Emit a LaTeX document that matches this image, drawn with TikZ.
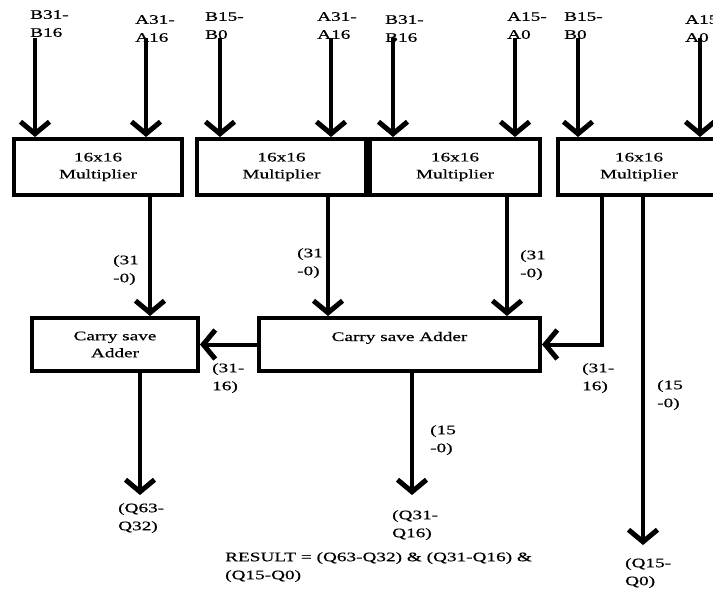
\documentclass[tikz,border=0pt]{standalone}
\usepackage{fontspec}
\setmainfont{Liberation Serif}[FakeStretch=1.48,FakeBold=0.6]
\usetikzlibrary{arrows.meta}
\tikzset{mul/.style={draw,line width=4pt,minimum height=56pt,align=center,inner sep=0pt,font=\fontsize{13}{17}\selectfont},
 csa/.style={draw,line width=4pt,minimum height=53pt,align=center,inner sep=0pt,font=\fontsize{13}{17}\selectfont},
 flow/.style={line width=4pt,-{Straight Barb[length=12pt,width=29pt,line width=5pt]}},
 lbl/.style={anchor=north west,align=left,inner sep=0pt,font=\fontsize{13}{18}\selectfont}}

\begin{document}
\begin{tikzpicture}[x=1pt,y=-1pt]
\clip (0,0) rectangle (713,591);
% multipliers
\node[mul,minimum width=168pt] (m1) at (98,167) {16x16\\Multiplier};
\node[mul,minimum width=169pt] (m2) at (281.5,167) {16x16\\Multiplier};
\node[mul,minimum width=170pt] (m3) at (455,167) {16x16\\Multiplier};
\node[mul,minimum width=162pt] (m4) at (639,167) {16x16\\Multiplier};
% adders
\node[csa,minimum width=166pt] (a1) at (115,344.5) {Carry save\\Adder};
\node[csa,minimum width=281pt,text height=9pt,text depth=16pt] (a2) at (399.5,344.5) {Carry save Adder};
% inputs
\foreach \n/\x in {i1/35,i2/146,i3/220,i4/331,i5/393,i6/515,i7/578,i8/700}
  \coordinate (\n) at (\x,38);
\node[lbl] (l1) at (30,10) {B31-\\B16};
\node[lbl] (l2) at (135,15) {A31-\\A16};
\node[lbl] (l3) at (205,12) {B15-\\B0};
\node[lbl] (l4) at (317,12) {A31-\\A16};
\node[lbl] (l5) at (385,15) {B31-\\B16};
\node[lbl] (l6) at (507,12) {A15-\\A0};
\node[lbl] (l7) at (564,12) {B15-\\B0};
\node[lbl] (l8) at (685,15) {A15\\A0};
\draw[flow] (i1) -- (i1 |- m1.north);
\draw[flow] (i2) -- (i2 |- m1.north);
\draw[flow] (i3) -- (i3 |- m2.north);
\draw[flow] (i4) -- (i4 |- m2.north);
\draw[flow] (i5) -- (i5 |- m3.north);
\draw[flow] (i6) -- (i6 |- m3.north);
\draw[flow] (i7) -- (i7 |- m4.north);
\draw[flow] (i8) -- (i8 |- m4.north);
% partial products
\coordinate (w1) at (150,0);\coordinate (w2) at (328,0);
\coordinate (w3) at (507,0);\coordinate (w4) at (602,0);
\draw[flow] (m1.south -| w1) -- (a1.north -| w1);
\draw[flow] (m2.south -| w2) -- (a2.north -| w2);
\draw[flow] (m3.south -| w3) -- (a2.north -| w3);
\draw[flow] (m4.south -| w4) |- (a2.east);
\draw[flow] (a2.west) -- (a1.east);
\node[lbl] (p1) at (113,255) {(31\\-0)};
\node[lbl] (p2) at (297,248) {(31\\-0)};
\node[lbl] (p3) at (520,250) {(31\\-0)};
\node[lbl] (p4) at (212,363) {(31-\\16)};
\node[lbl] (p5) at (582,363) {(31-\\16)};
\node[lbl] (p6) at (657,380) {(15\\-0)};
% outputs
\coordinate (q1) at (140,495);\coordinate (q2) at (412,495);\coordinate (q3) at (643,545);
\draw[flow] (a1.south -| q1) -- (q1);
\draw[flow] (a2.south -| q2) -- (q2);
\draw[flow] (m4.south -| q3) -- (q3);
\node[lbl] (p7) at (430,425) {(15\\-0)};
\node[lbl] (o1) at (118,503) {(Q63-\\Q32)};
\node[lbl] (o2) at (392,510) {(Q31-\\Q16)};
\node[lbl] (o3) at (625,558) {(Q15-\\Q0)};
\node[lbl] (res) at (225,552) {RESULT = (Q63-Q32) \& (Q31-Q16) \&\\(Q15-Q0)};
\end{tikzpicture}
\end{document}
